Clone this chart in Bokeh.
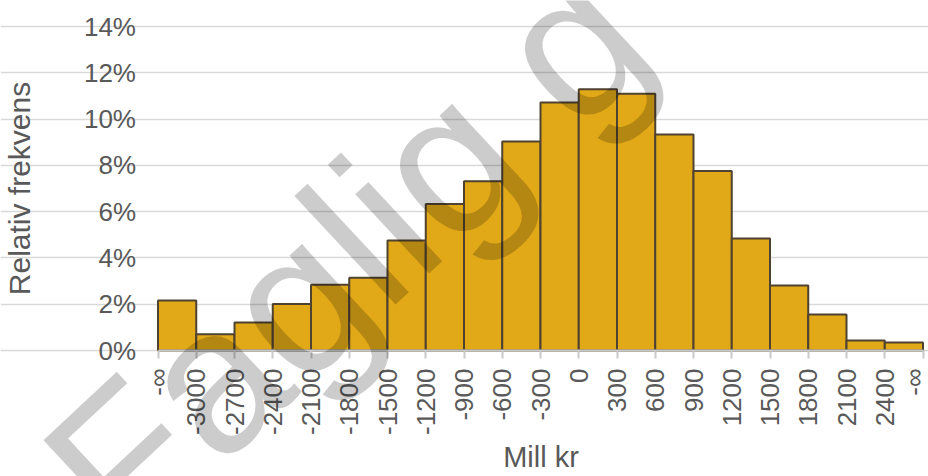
import math
from bokeh.plotting import figure
from bokeh.models import (FixedTicker, NumeralTickFormatter, Label, ColumnDataSource,
                          Range1d, LinearAxis, Grid)
from bokeh.embed import file_html
from bokeh.resources import INLINE

# Data
edge_labels = ["-∞", "-3000", "-2700", "-2400", "-2100", "-1800", "-1500", "-1200",
               "-900", "-600", "-300", "0", "300", "600", "900", "1200", "1500",
               "1800", "2100", "2400", "-∞"]
rel_freq = [0.0216, 0.0070, 0.0121, 0.0201, 0.0284, 0.0314, 0.0475, 0.0633,
            0.0731, 0.0903, 0.1072, 0.1129, 0.1109, 0.0933, 0.0776, 0.0484,
            0.0281, 0.0156, 0.0043, 0.0035]
y_ticks = [0.0, 0.02, 0.04, 0.06, 0.08, 0.10, 0.12, 0.14]

FONT = "Liberation Sans"
TXT = "#595959"

# layout (pixels): plotting area inside the 928x476 canvas
W, H = 928, 476
AREA_L, AREA_R, AREA_T, AREA_B = 157.5, 922.5, 26.0, 350.0
n = len(rel_freq)
YMAX = 0.14
xs = (AREA_R - AREA_L) / n
ys = (AREA_B - AREA_T) / YMAX

src = ColumnDataSource(dict(
    left=list(range(n)),
    right=[i + 1 for i in range(n)],
    top=rel_freq,
    bottom=[0] * n,
))

p = figure(frame_width=W, frame_height=H, min_border=0,
           x_range=Range1d(-AREA_L / xs, n + (W - AREA_R) / xs),
           y_range=Range1d(-(H - AREA_B) / ys, YMAX + AREA_T / ys),
           x_axis_location=None, y_axis_location=None,
           output_backend="svg", toolbar_location=None)
p.outline_line_color = None
p.background_fill_color = "white"
p.border_fill_color = "white"
for g in p.grid:
    g.visible = False

yg = Grid(dimension=1, ticker=FixedTicker(ticks=y_ticks), bounds=(0, n),
          grid_line_color="#D9D9D9", grid_line_width=1.5)
p.add_layout(yg)

p.quad(left="left", right="right", top="top", bottom="bottom", source=src,
       fill_color="#E1A817", line_color="#4F4230", line_width=2)

# x axis, fixed at y = 0
xax = LinearAxis(fixed_location=0, bounds=(0, n))
xax.ticker = FixedTicker(ticks=list(range(n + 1)))
xax.major_label_overrides = {i: lab for i, lab in enumerate(edge_labels)}
xax.major_label_orientation = math.pi / 2
xax.axis_line_color = "#C9C9C9"
xax.axis_line_width = 2
xax.major_tick_line_color = "#C9C9C9"
xax.major_tick_line_width = 2
xax.major_tick_in = 0
xax.major_tick_out = 8
xax.minor_tick_line_color = None
xax.major_label_standoff = 10
xax.major_label_text_font = FONT
xax.major_label_text_font_size = "26px"
xax.major_label_text_color = TXT
xax.axis_label = "Mill kr"
xax.axis_label_text_font = FONT
xax.axis_label_text_font_size = "29px"
xax.axis_label_text_font_style = "normal"
xax.axis_label_text_color = TXT
xax.axis_label_standoff = 3
p.add_layout(xax, "below")

# y axis, fixed at the left edge of the bars
yax = LinearAxis(fixed_location=0, bounds=(0, YMAX))
yax.ticker = FixedTicker(ticks=y_ticks)
yax.formatter = NumeralTickFormatter(format="0%")
yax.axis_line_color = None
yax.major_tick_line_color = None
yax.minor_tick_line_color = None
yax.major_tick_out = 0
yax.major_tick_in = 0
yax.major_label_standoff = 22
yax.major_label_text_font = FONT
yax.major_label_text_font_size = "26px"
yax.major_label_text_color = TXT
yax.axis_label = "Relativ frekvens"
yax.axis_label_text_font = FONT
yax.axis_label_text_font_size = "30px"
yax.axis_label_text_font_style = "normal"
yax.axis_label_text_color = TXT
yax.axis_label_standoff = 45
p.add_layout(yax, "left")

# watermark
wm = Label(x=(78 - AREA_L) / xs, y=(AREA_B - 502) / ys, x_units="data", y_units="data",
           text="Faglig g", angle=43, angle_units="deg", text_font=FONT,
           text_font_size="205px", text_color="black", text_alpha=0.2,
           text_align="left", text_baseline="alphabetic", level="overlay")
p.add_layout(wm)

open("out.html", "w").write(file_html(p, INLINE))
